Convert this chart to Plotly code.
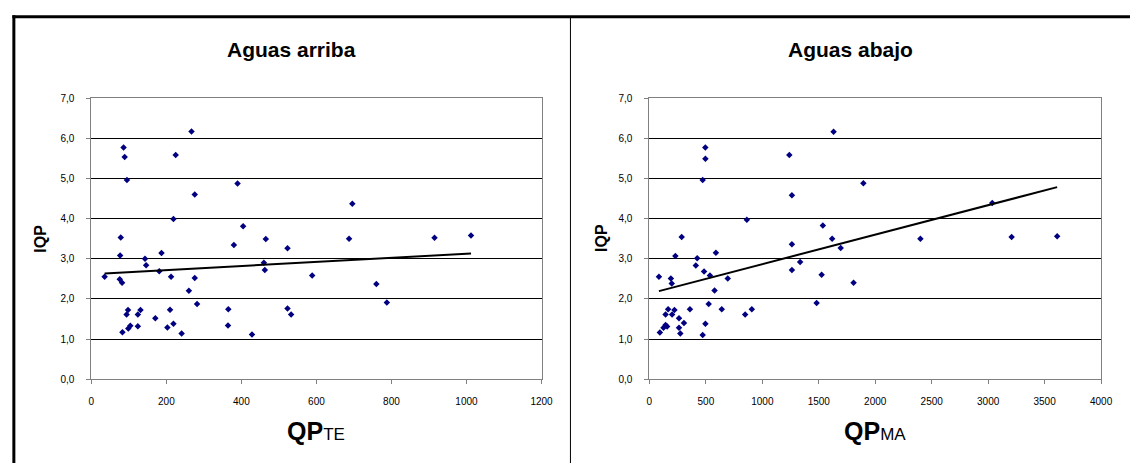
import numpy as np
import plotly.graph_objects as go

W, H = 1142, 469

# ---- data ----
qpte = [35.5, 78.5, 76.7, 89, 95, 75.8, 82, 83, 97.8, 94, 98.6, 103.9, 124, 131, 124,
        143, 146, 170.5, 181, 187, 202.7, 209.8, 212.6, 218.8, 218.8, 224.9, 240.7, 260,
        275.7, 275.7, 281.9, 365.2, 364.3, 380, 389.7, 404.6, 428.3, 465, 460, 462.4,
        522.9, 522.9, 532.5, 86, 267, 695.7, 687, 588.7, 759.7, 787.7, 914.8, 1012]
iqp_arriba = [2.55, 3.53, 3.08, 5.53, 4.96, 2.49, 2.40, 1.17, 1.72, 1.61, 1.26, 1.33, 1.61,
              1.72, 1.32, 3.00, 2.84, 1.52, 2.69, 3.14, 1.29, 1.73, 2.55, 3.99, 1.38, 5.58,
              1.14, 2.20, 4.60, 2.52, 1.87, 1.74, 1.34, 3.34, 4.87, 3.81, 1.11, 3.49, 2.90,
              2.72, 3.26, 1.76, 1.61, 5.77, 6.17, 4.37, 3.50, 2.58, 2.37, 1.91, 3.52, 3.58]

qpma = [84.5, 93, 125, 143, 157, 143, 166, 190, 198, 201, 222, 230, 262, 262, 274, 286,
        306, 359, 411, 423, 472, 472, 484, 496, 496, 525, 536, 577, 589, 641, 694, 848,
        863, 907, 1239, 1262, 1262, 1262, 1335, 1481, 1525, 1536, 1618, 1694, 1808, 1895,
        495, 1631, 2400, 3036, 3208, 3611]
iqp_abajo = [2.55, 1.16, 1.28, 1.35, 1.31, 1.61, 1.74, 2.51, 2.38, 1.61, 1.72, 3.07, 1.52,
             1.28, 1.14, 3.54, 1.40, 1.74, 2.83, 3.01, 1.10, 4.96, 2.68, 5.49, 1.38, 1.87,
             2.58, 2.21, 3.15, 1.74, 2.51, 1.61, 3.97, 1.74, 5.58, 4.58, 3.36, 2.72, 2.92,
             1.90, 2.60, 3.83, 3.50, 3.27, 2.40, 4.88, 5.77, 6.16, 3.50, 4.39, 3.54, 3.56]

titles = ["Aguas arriba", "Aguas abajo"]
x_main = ["QP", "QP"]
x_sub = ["TE", "MA"]
y_title = "IQP"
x_ranges = [(0, 1200, 200), (0, 4000, 500)]

FONT = "Liberation Sans, Arial, sans-serif"


def px(x):
    return x / W


def py(y):
    return 1 - y / H


fig = go.Figure()

datasets = [(qpte, iqp_arriba), (qpma, iqp_abajo)]
for i, (xs, ys) in enumerate(datasets):
    ax = "x" if i == 0 else "x2"
    ay = "y" if i == 0 else "y2"
    fig.add_trace(go.Scatter(x=xs, y=ys, mode="markers", xaxis=ax, yaxis=ay,
                             marker=dict(symbol="diamond", size=5, color="#000080"),
                             showlegend=False, hoverinfo="x+y"))
    b, a = np.polyfit(np.array(xs, float), np.array(ys, float), 1)
    tx = np.array([min(xs), max(xs)])
    fig.add_trace(go.Scatter(x=tx, y=a + b * tx, mode="lines", xaxis=ax, yaxis=ay,
                             line=dict(color="black", width=2), showlegend=False,
                             hoverinfo="skip"))

dom_y = [py(383), py(94.5)]
dom_x = [[px(89.5), px(545.7)], [px(655), px(1112.7)]]

common_x = dict(showgrid=False, zeroline=False, showline=True, linecolor="#808080",
                linewidth=1, mirror=True, ticks="outside", ticklen=4, tickcolor="#808080",
                ticklabelstandoff=9,
                tickfont=dict(family=FONT, size=10, color="black"))
common_y = dict(showgrid=True, gridcolor="#000000", gridwidth=1, zeroline=False,
                showline=True, linecolor="#808080", linewidth=1, mirror=True,
                ticks="outside", ticklen=4, tickcolor="#808080", range=[0, 7], dtick=1,
                tick0=0, tickformat=".1f", ticklabelstandoff=10,
                tickfont=dict(family=FONT, size=10, color="black"))

fig.update_layout(
    xaxis=dict(domain=dom_x[0], anchor="y", range=[x_ranges[0][0], x_ranges[0][1]],
               dtick=x_ranges[0][2], tick0=0, **common_x),
    yaxis=dict(domain=dom_y, anchor="x", **common_y),
    xaxis2=dict(domain=dom_x[1], anchor="y2", range=[x_ranges[1][0], x_ranges[1][1]],
                dtick=x_ranges[1][2], tick0=0, **common_x),
    yaxis2=dict(domain=dom_y, anchor="x2", **common_y),
)

annotations = []
title_cx = [292.5, 858.5]
xt_cx = [317.6, 884]
yt_cx = [37.8, 606.5]
for i in range(2):
    annotations.append(dict(text="<b>%s</b>" % titles[i], xref="paper", yref="paper",
                            x=px(title_cx[i]), y=py(44.4), xanchor="center", yanchor="middle",
                            showarrow=False, font=dict(family=FONT, size=21, color="black")))
    annotations.append(dict(text="<b>%s</b><span style='font-size:17px'>%s</span>" % (x_main[i], x_sub[i]),
                            xref="paper", yref="paper", x=px(xt_cx[i]), y=py(436.5),
                            xanchor="center", yanchor="middle", showarrow=False,
                            font=dict(family=FONT, size=25, color="black")))
    annotations.append(dict(text="<b>%s</b>" % y_title, xref="paper", yref="paper",
                            x=px(yt_cx[i]), y=py(238.5), xanchor="center", yanchor="middle",
                            textangle=-90, showarrow=False,
                            font=dict(family=FONT, size=16, color="black")))

shapes = [
    dict(type="line", xref="paper", yref="paper", x0=px(9.5), x1=1, y0=py(11), y1=py(11),
         line=dict(color="black", width=3)),
    dict(type="line", xref="paper", yref="paper", x0=px(11), x1=px(11), y0=0, y1=py(9.5),
         line=dict(color="black", width=3)),
    dict(type="line", xref="paper", yref="paper", x0=px(575), x1=px(575), y0=0, y1=py(11),
         line=dict(color="black", width=1)),
]

fig.update_layout(
    width=W, height=H, margin=dict(l=0, r=0, t=0, b=0),
    paper_bgcolor="white", plot_bgcolor="white",
    separators=", ",
    annotations=annotations, shapes=shapes,
    font=dict(family=FONT),
)

fig.write_html("out.html", config={"displayModeBar": False},
               post_script="document.body.style.margin='0';document.body.style.overflow='hidden';")
